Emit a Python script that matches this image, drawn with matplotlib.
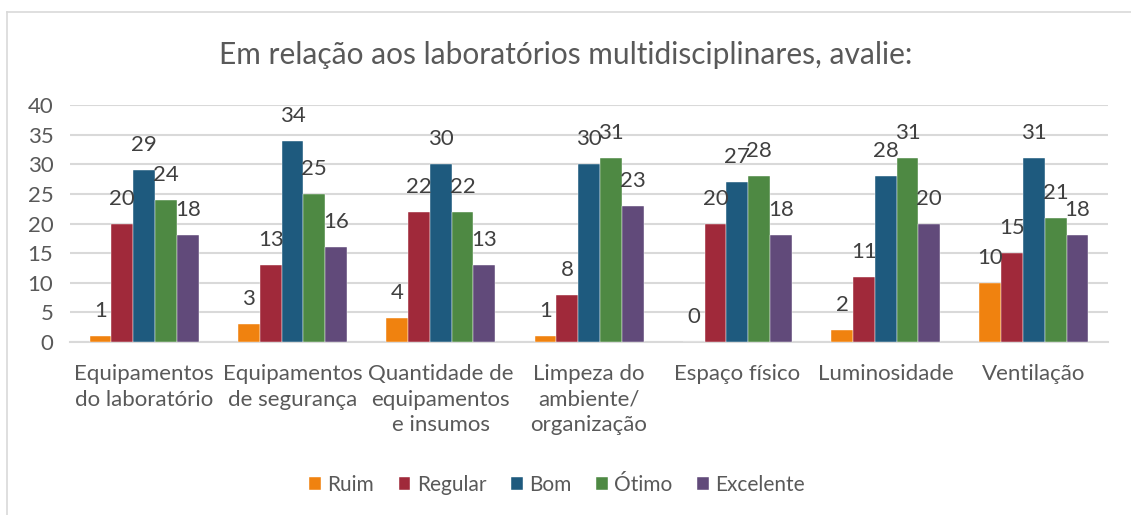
import matplotlib
matplotlib.use("Agg")
import matplotlib.pyplot as plt
from matplotlib.lines import Line2D
import numpy as np

categories = ["Equipamentos\ndo laboratório", "Equipamentos\nde segurança",
              "Quantidade de\nequipamentos\ne insumos", "Limpeza do\nambiente/\norganização",
              "Espaço físico", "Luminosidade", "Ventilação"]
series_names = ["Ruim", "Regular", "Bom", "Ótimo", "Excelente"]
ruim = [1, 3, 4, 1, 0, 2, 10]
regular = [20, 13, 22, 8, 20, 11, 15]
bom = [29, 34, 30, 30, 27, 28, 31]
otimo = [24, 25, 22, 31, 28, 31, 21]
excelente = [18, 16, 13, 23, 18, 20, 18]
y_ticks = [0, 5, 10, 15, 20, 25, 30, 35, 40]
title = "Em relação aos laboratórios multidisciplinares, avalie:"

colors = ["#F0820F", "#A0293A", "#1E5A7E", "#4E8943", "#614A7A"]
series = [ruim, regular, bom, otimo, excelente]

plt.rcParams['font.family'] = ['Lato', 'DejaVu Sans']

fig = plt.figure(figsize=(11.31, 5.15), dpi=100)
ax = fig.add_axes([0.0619, 0.3359, 0.9797 - 0.0619, 0.796 - 0.3359])

x = np.arange(len(categories))
bw = 0.147
for i, (vals, c, name) in enumerate(zip(series, colors, series_names)):
    pos = x + (i - 2) * bw
    ax.bar(pos, vals, width=bw, color=c, label=name, zorder=3,
           edgecolor='white', linewidth=0.3)
    for p, v in zip(pos, vals):
        ax.annotate(str(v), (p, v), xytext=(0, 18), textcoords='offset points',
                    ha='center', va='center', fontsize=16, color='#404040', zorder=4)

ax.set_ylim(0, 40)
ax.set_xlim(-0.5, len(categories) - 0.5)
ax.set_yticks(y_ticks)
ax.set_xticks(x)
ax.set_xticklabels(categories, fontsize=16, color='#595959', linespacing=1.35)
ax.tick_params(axis='y', labelsize=16, labelcolor='#595959', length=0, pad=12)
ax.tick_params(axis='x', length=0, pad=16)
ax.yaxis.grid(True, color='#D9D9D9', linewidth=1.5, zorder=0)
for s in ['top', 'right', 'left']:
    ax.spines[s].set_visible(False)
ax.spines['bottom'].set_color('#D9D9D9')
ax.spines['bottom'].set_linewidth(1.5)

fig.text(0.5, 1 - 55 / 515, title, ha='center', va='center', fontsize=21.5, color='#595959')

leg = fig.legend(loc='center', bbox_to_anchor=(557 / 1131, 1 - 485 / 515), ncol=5, frameon=False,
                 fontsize=15, handlelength=0.55, handleheight=0.55, columnspacing=1.2,
                 handletextpad=0.3)
for t in leg.get_texts():
    t.set_color('#595959')

# chart frame (left and top edges visible)
fig.add_artist(Line2D([7 / 1131, 7 / 1131], [0, 1 - 12 / 515], transform=fig.transFigure,
                      color='#D9D9D9', linewidth=1.2))
fig.add_artist(Line2D([7 / 1131, 1], [1 - 12 / 515, 1 - 12 / 515], transform=fig.transFigure,
                      color='#D9D9D9', linewidth=1.2))

fig.savefig("out.png", dpi=100, facecolor='white')
